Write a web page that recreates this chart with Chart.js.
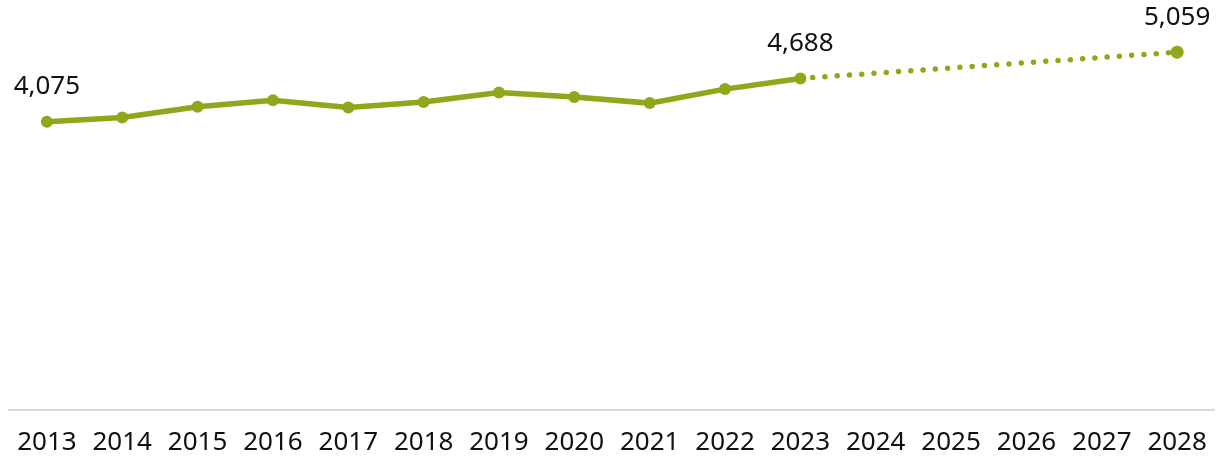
<!DOCTYPE html>
<html>
<head>
<meta charset="utf-8">
<script src="https://cdn.jsdelivr.net/npm/chart.js@4/dist/chart.umd.min.js"></script>
<style>
  html, body { margin: 0; padding: 0; background: #fff; }
  #wrap { width: 1224px; height: 457px; }
</style>
</head>
<body>
<div id="wrap"><canvas id="graph"></canvas></div>
<script>
const years = ["2013","2014","2015","2016","2017","2018","2019","2020","2021","2022","2023","2024","2025","2026","2027","2028"];
const actual = [4075, 4137, 4287, 4381, 4278, 4356, 4490, 4424, 4339, 4537, 4688, null, null, null, null, null];
const forecast = [null, null, null, null, null, null, null, null, null, null, 4688, null, null, null, null, 5059];
// which points get a value written above them: [dataset, index]
const labelled = [[0, 0], [0, 10], [1, 15]];

const green = "#93a51b";
const graph = document.getElementById('graph');

const pointLabels = {
    id: 'pointLabels',
    afterDatasetsDraw(chart) {
        const ctx = chart.ctx;
        ctx.save();
        ctx.font = '26px "Noto Sans"';
        ctx.fillStyle = '#111';
        ctx.textAlign = 'center';
        ctx.textBaseline = 'middle';
        labelled.forEach(([d, i]) => {
            const pt = chart.getDatasetMeta(d).data[i];
            const v = chart.data.datasets[d].data[i];
            ctx.fillText(v.toLocaleString('en-US'), pt.x, pt.y - 35);
        });
        ctx.restore();
    }
};

new Chart(graph, {
    type: "line",
    data: {
        labels: years,
        datasets: [{
            data: actual,
            borderColor: green,
            backgroundColor: green,
            borderWidth: 5.5,
            pointRadius: 6,
            pointBorderWidth: 0,
            pointBackgroundColor: green
        }, {
            data: forecast,
            spanGaps: true,
            borderColor: green,
            backgroundColor: green,
            borderWidth: 5.5,
            borderDash: [0, 12.3],
            borderCapStyle: 'round',
            pointRadius: [0,0,0,0,0,0,0,0,0,0,0,0,0,0,0,6.5],
            pointBorderWidth: 0,
            pointBackgroundColor: green
        }]
    },
    options: {
        responsive: true,
        maintainAspectRatio: false,
        animation: false,
        layout: { padding: { top: 21, left: 5, right: 7, bottom: 0 } },
        plugins: {
            legend: { display: false },
            tooltip: { enabled: false }
        },
        scales: {
            x: {
                offset: true,
                grid: { display: false, drawTicks: false },
                border: { display: true, color: '#d9d9d9', width: 2 },
                ticks: {
                    padding: 17,
                    color: '#111',
                    font: { family: 'Noto Sans', size: 26 }
                },
                afterFit: (s) => { s.height = 47; }
            },
            y: {
                display: false,
                min: 0,
                max: 5500
            }
        }
    },
    plugins: [pointLabels]
});
</script>
</body>
</html>
